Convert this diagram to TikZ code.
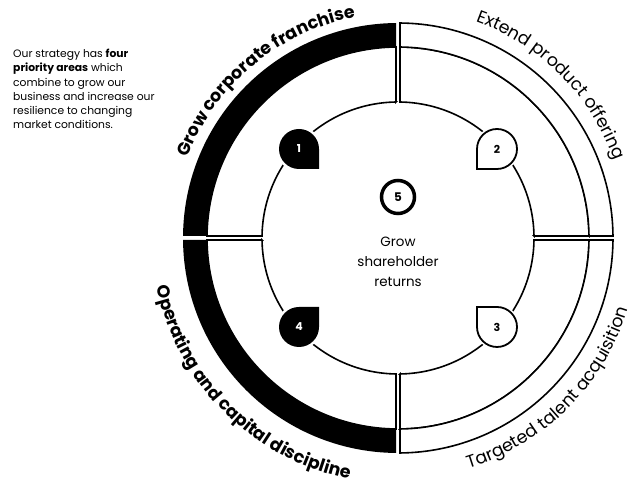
\documentclass[tikz,border=0pt]{standalone}
\usepackage{fontspec}
\setmainfont{Poppins}
\usetikzlibrary{decorations.text}

% annular sector: start angle, end angle, inner radius, outer radius
\newcommand{\ringsector}[4]{%
  ({#1+asin(\sgap/#3)}:#3) -- ({#1+asin(\sgap/#4)}:#4)
  arc[start angle={#1+asin(\sgap/#4)}, end angle={#2-asin(\sgap/#4)}, radius=#4 bp]
  -- ({#2-asin(\sgap/#3)}:#3)
  arc[start angle={#2-asin(\sgap/#3)}, end angle={#1+asin(\sgap/#3)}, radius=#3 bp] -- cycle}
% marker with its sharp corner at (r,-r)
\newcommand{\pinpath}{(\pinr,-\pinr) -- (\pinr,0) arc[start angle=0, end angle=270, radius=\pinr bp] -- cycle}
\def\sgap{2}
\def\pinr{20}
\newcommand{\qfontb}{\fontsize{17.5}{17.5}\selectfont\bfseries}
\newcommand{\qfontr}{\fontsize{17.5}{17.5}\selectfont}

\begin{document}
\begin{tikzpicture}[
    x=1bp, y=1bp,
    outline/.style  = {draw=black, line width=1.6bp},
    pinblack/.style = {fill=black},
    pinwhite/.style = {fill=white, draw=black, line width=1.8bp},
    halo/.style     = {draw=white, line width=5bp},
    digit/.style    = {font=\fontsize{11}{11}\selectfont\bfseries, inner sep=0pt},
    arclabel/.style = {decorate, decoration={text along path, text align=center, text={#1}}}
]
\useasboundingbox (0,0) rectangle (635,486);

% intro text
\node[anchor=north west, align=left, inner sep=0pt,
      font=\fontsize{10.8}{14.3}\selectfont] (intro) at (13,437)
  {Our strategy has \textbf{four}\\
   \textbf{priority areas} which\\
   combine to grow our\\
   business and increase our\\
   resilience to changing\\
   market conditions.};

\begin{scope}[shift={(398,248)}]
  % QUADRANTS
  \foreach \a in {90,180}{
    \filldraw[outline, fill=white] \ringsector{\a}{\a+90}{136}{191};
    \fill[black] \ringsector{\a}{\a+90}{191}{215};
  }
  \foreach \a in {-90,0}{
    \filldraw[outline, fill=white] \ringsector{\a}{\a+90}{136}{191};
    \filldraw[outline, fill=white] \ringsector{\a}{\a+90}{191}{215};
  }

  % numbered markers
  \foreach \n/\px/\py/\rot/\pst/\dcol in {1/-99/89/0/pinblack/white, 2/99/89/-90/pinwhite/black,
                                          3/99/-89/180/pinwhite/black, 4/-99/-89/90/pinblack/white}{
    \begin{scope}[shift={(\px,\py)}, rotate=\rot]
      \draw[halo] \pinpath;
      \path[\pst] \pinpath;
    \end{scope}
    \node[digit, text=\dcol] (m\n) at (\px,\py) {\n};
  }

  % centre
  \node[circle, draw, line width=3.5bp, minimum size=33bp, inner sep=0pt,
        font=\fontsize{12}{12}\selectfont\bfseries] (m5) at (0,41) {5};
  \node[align=center, font=\fontsize{13.5}{20}\selectfont] (goal) at (0,-24)
    {Grow\\shareholder\\returns};

  % quadrant labels
  \path[arclabel={|\qfontb|Grow corporate franchise}]
    (180:225) arc[start angle=180, end angle=80, radius=225bp];
  \path[arclabel={|\qfontr|Extend product offering}]
    (95:230) arc[start angle=95, end angle=-5, radius=230bp];
  \path[arclabel={|\qfontr|Targeted talent acquisition}]
    (-100:241) arc[start angle=-100, end angle=10, radius=241bp];
  \path[arclabel={|\qfontb|Operating and capital discipline}]
    (170:246) arc[start angle=170, end angle=280, radius=246bp];
\end{scope}
\end{tikzpicture}
\end{document}
